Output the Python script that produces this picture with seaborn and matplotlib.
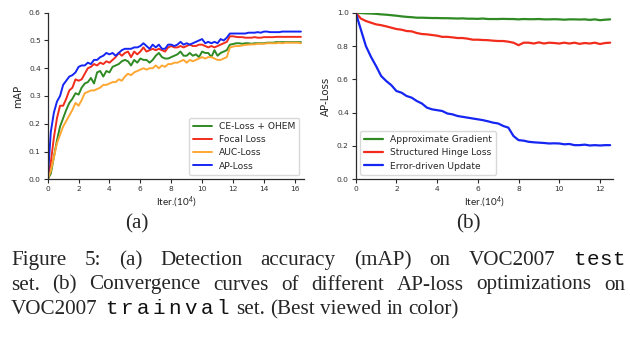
import numpy as np
import pandas as pd
import seaborn as sns
import matplotlib
matplotlib.use("Agg")
import matplotlib.pyplot as plt

# ---------------- data: (a) detection accuracy ----------------
iters_a = np.round(np.arange(0, 16.41, 0.2), 2)

ce_ohem = [0.00, 0.02, 0.08, 0.14, 0.19, 0.22, 0.25, 0.275, 0.29, 0.31,
           0.305, 0.33, 0.345, 0.35, 0.365, 0.345, 0.385, 0.39, 0.37, 0.39,
           0.385, 0.405, 0.41, 0.415, 0.425, 0.43, 0.425, 0.41, 0.43, 0.42,
           0.435, 0.43, 0.43, 0.42, 0.43, 0.445, 0.455, 0.44, 0.435, 0.435,
           0.44, 0.445, 0.45, 0.46, 0.445, 0.445, 0.455, 0.445, 0.45, 0.44,
           0.46, 0.455, 0.455, 0.44, 0.465, 0.445, 0.455, 0.46, 0.465, 0.485,
           0.487, 0.49, 0.49, 0.488, 0.49, 0.49, 0.488, 0.49, 0.49, 0.49,
           0.49, 0.492, 0.492, 0.492, 0.494, 0.494, 0.494, 0.494, 0.494, 0.494,
           0.494, 0.494, 0.494]
focal = [0.00, 0.06, 0.15, 0.22, 0.265, 0.265, 0.29, 0.32, 0.33, 0.36,
         0.355, 0.36, 0.38, 0.40, 0.405, 0.415, 0.41, 0.42, 0.415, 0.425,
         0.42, 0.43, 0.44, 0.455, 0.445, 0.455, 0.46, 0.44, 0.46, 0.45,
         0.46, 0.475, 0.46, 0.465, 0.47, 0.465, 0.47, 0.465, 0.46, 0.475,
         0.48, 0.475, 0.475, 0.48, 0.475, 0.48, 0.485, 0.48, 0.48, 0.485,
         0.485, 0.48, 0.475, 0.48, 0.475, 0.48, 0.485, 0.49, 0.495, 0.515,
         0.515, 0.513, 0.512, 0.512, 0.51, 0.51, 0.51, 0.512, 0.51, 0.51,
         0.512, 0.512, 0.512, 0.512, 0.513, 0.513, 0.513, 0.513, 0.513, 0.513,
         0.513, 0.513, 0.513]
auc = [0.00, 0.03, 0.08, 0.13, 0.16, 0.19, 0.21, 0.23, 0.25, 0.275,
       0.265, 0.285, 0.31, 0.315, 0.32, 0.32, 0.325, 0.33, 0.34, 0.34,
       0.345, 0.35, 0.35, 0.36, 0.355, 0.37, 0.38, 0.375, 0.385, 0.39,
       0.395, 0.40, 0.395, 0.40, 0.40, 0.41, 0.40, 0.41, 0.405, 0.415,
       0.415, 0.42, 0.42, 0.425, 0.43, 0.42, 0.43, 0.425, 0.43, 0.435,
       0.44, 0.435, 0.44, 0.44, 0.435, 0.43, 0.43, 0.435, 0.44, 0.475,
       0.478, 0.48, 0.48, 0.482, 0.484, 0.485, 0.486, 0.486, 0.488, 0.488,
       0.488, 0.49, 0.49, 0.49, 0.49, 0.492, 0.49, 0.492, 0.492, 0.492,
       0.492, 0.492, 0.49]
ap_loss = [0.00, 0.17, 0.24, 0.28, 0.30, 0.34, 0.355, 0.37, 0.375, 0.385,
           0.405, 0.41, 0.41, 0.42, 0.415, 0.43, 0.43, 0.44, 0.445, 0.455,
           0.45, 0.455, 0.445, 0.455, 0.465, 0.47, 0.47, 0.47, 0.475, 0.475,
           0.48, 0.49, 0.48, 0.47, 0.485, 0.475, 0.485, 0.47, 0.47, 0.485,
           0.485, 0.48, 0.485, 0.495, 0.485, 0.49, 0.485, 0.49, 0.495, 0.50,
           0.505, 0.49, 0.495, 0.49, 0.495, 0.49, 0.505, 0.50, 0.51, 0.525,
           0.525, 0.525, 0.525, 0.525, 0.525, 0.528, 0.528, 0.528, 0.53, 0.528,
           0.532, 0.532, 0.53, 0.53, 0.53, 0.53, 0.532, 0.532, 0.532, 0.532,
           0.532, 0.532, 0.532]

# ---------------- data: (b) AP-loss convergence ----------------
iters_b = np.round(np.arange(0, 12.51, 0.25), 2)

approx_grad = [1.0, 0.998, 0.996, 0.995, 0.993, 0.99, 0.988, 0.985, 0.982, 0.978,
               0.975, 0.973, 0.97, 0.97, 0.969, 0.968, 0.968, 0.967, 0.967, 0.966,
               0.965, 0.966, 0.964, 0.964, 0.963, 0.965, 0.962, 0.962, 0.962, 0.963,
               0.962, 0.962, 0.96, 0.962, 0.961, 0.961, 0.962, 0.96, 0.96, 0.961,
               0.96, 0.958, 0.96, 0.96, 0.959, 0.96, 0.957, 0.96, 0.955, 0.958,
               0.96]
hinge = [1.0, 0.965, 0.95, 0.94, 0.93, 0.925, 0.918, 0.91, 0.902, 0.898,
         0.89, 0.888, 0.878, 0.872, 0.87, 0.866, 0.862, 0.855, 0.855, 0.852,
         0.848, 0.848, 0.844, 0.838, 0.838, 0.836, 0.835, 0.832, 0.83, 0.83,
         0.826, 0.82, 0.805, 0.82, 0.82, 0.815, 0.822, 0.815, 0.82, 0.818,
         0.815, 0.82, 0.815, 0.82, 0.813, 0.818, 0.815, 0.82, 0.812, 0.818,
         0.82]
error_driven = [1.0, 0.90, 0.80, 0.735, 0.68, 0.62, 0.59, 0.565, 0.53, 0.52,
                0.50, 0.49, 0.47, 0.455, 0.43, 0.42, 0.415, 0.41, 0.395, 0.39,
                0.38, 0.375, 0.37, 0.365, 0.36, 0.355, 0.348, 0.34, 0.335, 0.32,
                0.31, 0.26, 0.235, 0.232, 0.225, 0.222, 0.22, 0.218, 0.215, 0.216,
                0.215, 0.21, 0.212, 0.205, 0.205, 0.208, 0.203, 0.205, 0.203, 0.205,
                0.205]

names_a = ["CE-Loss + OHEM", "Focal Loss", "AUC-Loss", "AP-Loss"]
names_b = ["Approximate Gradient", "Structured Hinge Loss", "Error-driven Update"]
yticks_a = [0.0, 0.1, 0.2, 0.3, 0.4, 0.5, 0.6]
yticks_b = [0.0, 0.2, 0.4, 0.6, 0.8, 1.0]
xticks_a = [0, 2, 4, 6, 8, 10, 12, 14, 16]
xticks_b = [0, 2, 4, 6, 8, 10, 12]

GREEN, RED, ORANGE, BLUE = "#2f8a24", "#f22c1c", "#ffa733", "#1626f2"

sns.set_theme(style="ticks")
plt.rcParams.update({
    "font.family": ["DejaVu Sans"],
    "axes.edgecolor": "#2b2b2b",
    "axes.linewidth": 0.9,
    "xtick.color": "#2b2b2b",
    "ytick.color": "#2b2b2b",
    "xtick.labelcolor": "#333333",
    "ytick.labelcolor": "#333333",
    "xtick.major.size": 3,
    "ytick.major.size": 3,
    "xtick.major.width": 0.8,
    "ytick.major.width": 0.8,
    "xtick.major.pad": 2,
    "ytick.major.pad": 2,
    "mathtext.fontset": "custom",
    "mathtext.rm": "Lato",
})

W, H = 630, 338
fig = plt.figure(figsize=(W / 100, H / 100), dpi=100)


def px_axes(x0, y0, x1, y1):
    return fig.add_axes([x0 / W, 1 - y1 / H, (x1 - x0) / W, (y1 - y0) / H])


ax_a = px_axes(47.7, 12.7, 304, 179.3)
ax_b = px_axes(355.7, 12.7, 613, 179.3)

df_a = pd.DataFrame({"iter": iters_a, names_a[0]: ce_ohem, names_a[1]: focal,
                     names_a[2]: auc, names_a[3]: ap_loss})
for name, col in zip(names_a, [GREEN, RED, ORANGE, BLUE]):
    sns.lineplot(data=df_a, x="iter", y=name, ax=ax_a, color=col, label=name,
                 linewidth=1.4, estimator=None, sort=False)

df_b = pd.DataFrame({"iter": iters_b, names_b[0]: approx_grad,
                     names_b[1]: hinge, names_b[2]: error_driven})
for name, col in zip(names_b, [GREEN, RED, BLUE]):
    sns.lineplot(data=df_b, x="iter", y=name, ax=ax_b, color=col, label=name,
                 linewidth=1.6, estimator=None, sort=False)

label_font = dict(family="Lato", size=7.2, color="#222222")
for ax, yt, xt, xmax, ylab in [(ax_a, yticks_a, xticks_a, 16.6, "mAP"),
                               (ax_b, yticks_b, xticks_b, 12.64, "AP-Loss")]:
    ax.set_xlim(0, xmax)
    ax.set_ylim(yt[0], yt[-1])
    ax.set_yticks(yt)
    ax.set_yticklabels([f"{v:.1f}" for v in yt])
    ax.set_xticks(xt)
    ax.tick_params(labelsize=5.4)
    ax.set_ylabel(ylab, fontsize=7.4, labelpad=4)
    ax.set_xlabel(r"Iter.($\mathregular{10^4}$)", labelpad=2, **label_font)
    sns.despine(ax=ax)

ax_a.legend(loc="lower right", fontsize=6.6, frameon=True, handlelength=2.0,
            labelspacing=0.45, borderpad=0.45, edgecolor="#d0d0d0")
ax_b.legend(loc="lower left", fontsize=6.6, frameon=True, handlelength=2.0,
            labelspacing=0.45, borderpad=0.45, edgecolor="#d0d0d0")

# ---------------- sub-captions and figure caption ----------------
SERIF = "Liberation Serif"
MONO = "Liberation Mono"
FS = 15.2          # caption serif size (pt)
FS_MONO = 15.0     # typewriter words

fig.text(137 / W, 1 - 228 / H, "(a)", family=SERIF, fontsize=FS,
         ha="center", va="baseline")
fig.text(468 / W, 1 - 228 / H, "(b)", family=SERIF, fontsize=FS,
         ha="center", va="baseline")

renderer = fig.canvas.get_renderer()
LEFT, RIGHT = 11.0, 625.0


def make_token(word, fam, baseline, pitch=None):
    """Create the text pieces for one word; return (pieces, width)."""
    y = 1 - baseline / H
    if fam == MONO:
        pieces = []
        for i, ch in enumerate(word):
            t = fig.text(0, y, ch, family=MONO, fontsize=FS_MONO,
                         ha="center", va="baseline", color="#111111")
            pieces.append((t, (i + 0.5) * pitch))
        return pieces, pitch * len(word)
    t = fig.text(0, y, word, family=fam, fontsize=FS, ha="left", va="baseline")
    return [(t, 0.0)], t.get_window_extent(renderer).width


def place_line(tokens, baseline, justify=True):
    made = [make_token(*tok, baseline=baseline) if len(tok) == 2
            else make_token(tok[0], tok[1], baseline, tok[2]) for tok in tokens]
    widths = [m[1] for m in made]
    if justify:
        gap = (RIGHT - LEFT - sum(widths)) / (len(made) - 1)
    else:
        probe = fig.text(0, 0, "a a", family=SERIF, fontsize=FS)
        probe2 = fig.text(0, 0, "aa", family=SERIF, fontsize=FS)
        gap = (probe.get_window_extent(renderer).width
               - probe2.get_window_extent(renderer).width)
        probe.remove()
        probe2.remove()
    x = LEFT
    for (pieces, w) in made:
        for t, off in pieces:
            t.set_x((x + off) / W)
        x += w + gap


line1 = [("Figure", SERIF), ("5:", SERIF), ("(a)", SERIF), ("Detection", SERIF),
         ("accuracy", SERIF), ("(mAP)", SERIF), ("on", SERIF),
         ("VOC2007", SERIF), ("test", MONO, 13.0)]
line2 = [(w, SERIF) for w in
         "set. (b) Convergence curves of different AP-loss optimizations on".split()]
line3 = [("VOC2007", SERIF), ("trainval", MONO, 16.0), ("set.", SERIF),
         ("(Best", SERIF), ("viewed", SERIF), ("in", SERIF), ("color)", SERIF)]

place_line(line1, 265.0)
place_line(line2, 289.5)
place_line(line3, 314.0, justify=False)

fig.savefig("out.png", dpi=100)
